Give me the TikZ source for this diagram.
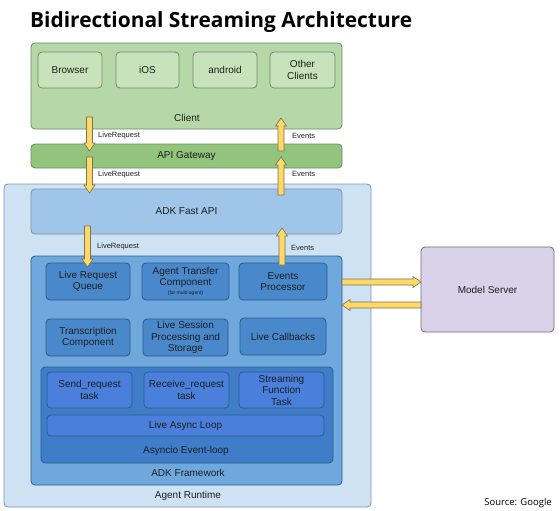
\documentclass[tikz,border=0pt]{standalone}
\usepackage{fontspec}
\setmainfont{Liberation Sans}
\newfontfamily\titlefont{Open Sans}
\usetikzlibrary{calc}
\definecolor{txt}{HTML}{1E1E1E}
\definecolor{grA}{HTML}{B6D7A8}
\definecolor{grB}{HTML}{C8E3BB}
\definecolor{grC}{HTML}{93C47D}
\definecolor{grD}{HTML}{6E8C66}
\definecolor{blA}{HTML}{CFE2F3}
\definecolor{blB}{HTML}{9FC5E8}
\definecolor{blC}{HTML}{6FA8DC}
\definecolor{blD}{HTML}{4A88CC}
\definecolor{blE}{HTML}{3F7DC8}
\definecolor{blF}{HTML}{4A80DC}
\definecolor{blLine}{HTML}{2E5C8A}
\definecolor{blLineL}{HTML}{7F93A6}
\definecolor{lav}{HTML}{D9D2E9}
\definecolor{lavLine}{HTML}{6E6A78}
\definecolor{arrFill}{HTML}{FFD966}
\definecolor{arrLine}{HTML}{7A7256}
\tikzset{
  box/.style={draw, rounded corners=4pt, line width=0.8pt, inner sep=0pt, outer sep=0pt,
    align=center, text=txt, font=\fontsize{10}{11.5}\selectfont},
  lbl/.style={inner sep=0pt, text=txt, font=\fontsize{10}{11.5}\selectfont},
  small/.style={inner sep=0pt, text=txt, anchor=west, font=\fontsize{7.5}{9}\selectfont},
  fatarrow/.style={fill=arrFill, draw=arrLine, line width=0.6pt, line join=miter},
}
\newcommand\fatarrow[2]{%
  \coordinate (fas) at (#1);
  \coordinate (fae) at (#2);
  \coordinate (fah) at ($(fae)!8pt!(fas)$);
  \filldraw[fatarrow] ($(fas)!3pt!90:(fae)$) -- ($(fah)!3pt!90:(fae)$) -- ($(fah)!5.5pt!90:(fae)$)
    -- (fae) -- ($(fah)!5.5pt!-90:(fae)$) -- ($(fah)!3pt!-90:(fae)$) -- ($(fas)!3pt!-90:(fae)$) -- cycle;
}
\begin{document}
\begin{tikzpicture}[x=1pt,y=-1pt]
\useasboundingbox[fill=white] (0,0) rectangle (560,511);

% title
\node[inner sep=0pt, anchor=base west, font=\titlefont\bfseries\fontsize{20.9}{24}\selectfont, text=black] (title) at (30,27.5) {Bidirectional Streaming Architecture};

% Client
\node[box, fill=grA, draw=grD, minimum width=311pt, minimum height=86pt] (client) at (186.5,86) {};
\node[box, fill=grB, draw=grD, minimum width=64pt, minimum height=36pt] (browser) at (70,70) {Browser};
\node[box, fill=grB, draw=grD, minimum width=63pt, minimum height=36pt] (ios) at (147.5,70) {iOS};
\node[box, fill=grB, draw=grD, minimum width=64pt, minimum height=36pt] (android) at (225,70) {android};
\node[box, fill=grB, draw=grD, minimum width=65pt, minimum height=36pt] (other) at (302.5,70) {Other\\Clients};
\node[lbl] (clientlbl) at (187,117.5) {Client};

% API Gateway
\node[box, fill=grC, draw=grD, minimum width=311pt, minimum height=24pt] (gateway) at (186.5,156) {API Gateway};

% Agent Runtime
\node[box, fill=blA, draw=blLineL, minimum width=367pt, minimum height=323pt] (runtime) at (187.5,345.5) {};
\node[lbl] (runtimelbl) at (188,496) {Agent Runtime};

% ADK Fast API
\node[box, fill=blB, draw=blLineL, minimum width=311pt, minimum height=45pt] (fastapi) at (186.5,211.5) {ADK Fast API};

% ADK Framework
\node[box, fill=blC, draw=blLine, minimum width=311pt, minimum height=229pt] (framework) at (186.5,370.5) {};
\node[lbl] (frameworklbl) at (188,473) {ADK Framework};

% Row 1
\node[box, fill=blD, draw=blLine, minimum width=84pt, minimum height=37pt] (lrq) at (88,281.5) {Live Request\\Queue};
\node[box, fill=blD, draw=blLine, minimum width=87pt, minimum height=37pt] (atc) at (185.5,281.5) {Agent Transfer\\Component\\[-2.5pt]{\fontsize{5}{6}\selectfont (for multi-agent)}};
\node[box, fill=blD, draw=blLine, minimum width=88pt, minimum height=37pt] (ep) at (283,281.5) {Events\\Processor};

% Row 2
\node[box, fill=blD, draw=blLine, minimum width=84pt, minimum height=37pt] (trans) at (88,337.5) {Transcription\\Component};
\node[box, fill=blD, draw=blLine, minimum width=85pt, minimum height=37pt] (lsps) at (185.5,337.5) {Live Session\\Processing and\\Storage};
\node[box, fill=blD, draw=blLine, minimum width=86pt, minimum height=37pt] (lcb) at (283,336.5) {Live Callbacks};

% Asyncio
\node[box, fill=blE, draw=blLine, minimum width=292pt, minimum height=96pt] (asyncio) at (187,415) {};
\node[lbl] (asynciolbl) at (186,451) {Asyncio Event-loop};
\node[box, fill=blF, draw=blLine, minimum width=85pt, minimum height=36pt] (sendt) at (89.5,390) {Send\_request\\task};
\node[box, fill=blF, draw=blLine, minimum width=85pt, minimum height=36pt] (recvt) at (186.5,390) {Receive\_request\\task};
\node[box, fill=blF, draw=blLine, minimum width=85pt, minimum height=36pt] (streamt) at (281.5,390) {Streaming\\Function\\Task};
\node[box, fill=blF, draw=blLine, minimum width=277pt, minimum height=21pt] (liveloop) at (185.5,425.5) {Live Async Loop};

% Model Server
\node[box, fill=lav, draw=lavLine, minimum width=133pt, minimum height=85pt] (model) at (487.5,289.5) {Model Server};

% Source
\node[inner sep=0pt, anchor=east, font=\titlefont\fontsize{9.5}{11}\selectfont, text=black] (source) at (552,503) {Source: Google};

% arrow end coordinates
\coordinate (lr1s) at (89.5,117);
\coordinate (lr1e) at (89.5,151);
\coordinate (lr2s) at (89.5,157);
\coordinate (lr2e) at (89.5,193);
\coordinate (lr3s) at (87.5,226);
\coordinate (lr3e) at (87.5,267);
\coordinate (ev1s) at (281,151);
\coordinate (ev1e) at (281,118);
\coordinate (ev2s) at (281,195);
\coordinate (ev2e) at (281,157);
\coordinate (ev3s) at (282,265);
\coordinate (ev3e) at (282,228);
\coordinate (fwout) at ($(framework.east)+(0,-88.5)$);
\coordinate (msin) at ($(model.west)+(0,-7.5)$);
\coordinate (msout) at ($(model.west)+(0,15.5)$);
\coordinate (fwin) at ($(framework.east)+(0,-65.5)$);

\fatarrow{lr1s}{lr1e}
\fatarrow{lr2s}{lr2e}
\fatarrow{lr3s}{lr3e}
\fatarrow{ev1s}{ev1e}
\fatarrow{ev2s}{ev2e}
\fatarrow{ev3s}{ev3e}
\fatarrow{fwout}{msin}
\fatarrow{msout}{fwin}

% arrow labels
\node[small] (lrl1) at (98,136) {LiveRequest};
\node[small] (lrl2) at (98,175) {LiveRequest};
\node[small] (lrl3) at (97,247) {LiveRequest};
\node[small] (evl1) at (292,136) {Events};
\node[small] (evl2) at (292,174) {Events};
\node[small] (evl3) at (291,248) {Events};
\end{tikzpicture}
\end{document}
